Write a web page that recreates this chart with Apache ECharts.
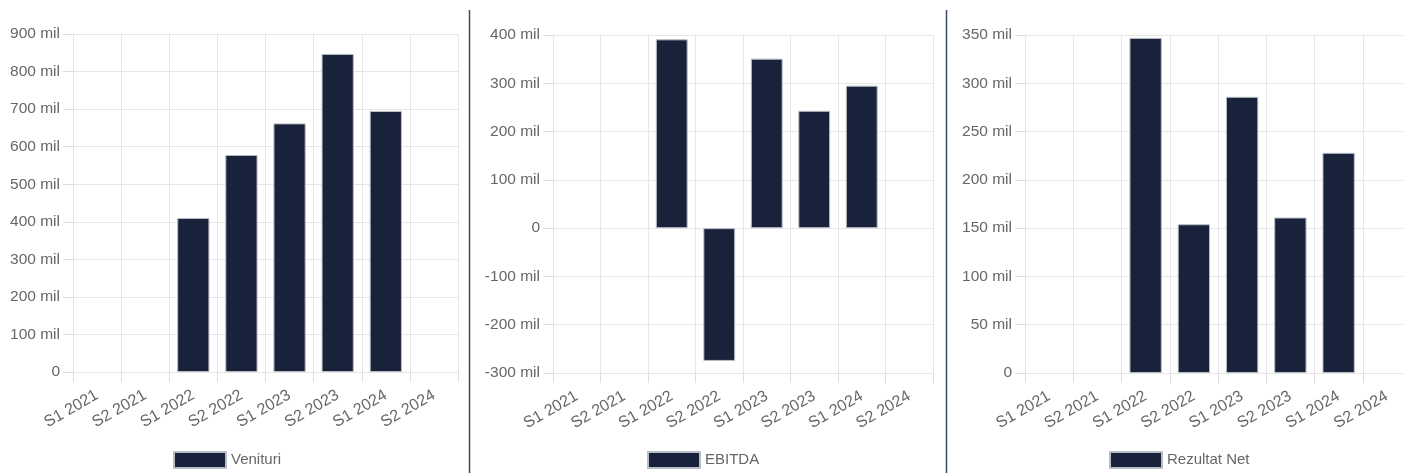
<!DOCTYPE html>
<html>
<head>
<meta charset="utf-8">
<script src="https://cdn.jsdelivr.net/npm/echarts@6/dist/echarts.min.js"></script>
<style>
  html, body { margin: 0; padding: 0; background: #fff; overflow: hidden; }
  #chart { width: 1420px; height: 473px; }
</style>
</head>
<body>
<div id="chart"></div>
<script>
const categories = ['S1 2021', 'S2 2021', 'S1 2022', 'S2 2022', 'S1 2023', 'S2 2023', 'S1 2024', 'S2 2024'];

const venituri = [null, null, 410, 578, 662, 847, 695, null];
const ebitda = [null, null, 391, -275, 351, 243, 295, null];
const rezultatNet = [null, null, 347, 154, 286, 161, 228, null];

const panels = [
    {name: 'Venituri', data: venituri, min: 0, max: 900, interval: 100,
        left: 73, width: 385, top: 34, height: 338, legendLeft: 168},
    {name: 'EBITDA', data: ebitda, min: -300, max: 400, interval: 100,
        left: 553, width: 380, top: 35, height: 338, legendLeft: 642},
    {name: 'Rezultat Net', data: rezultatNet, min: 0, max: 350, interval: 50,
        left: 1025, width: 386, top: 35, height: 338, legendLeft: 1104}
];

const BAR = '#18223b';
const GRID_LINE = '#e6e6e6';
const TICK = '#dcdcdc';
const TEXT = '#666';
const FONT = 'Liberation Sans, Arial, sans-serif';

const grid = [];
const xAxis = [];
const yAxis = [];
const series = [];
const legend = [];

panels.forEach((p, i) => {
    grid.push({left: p.left, width: p.width, top: p.top, height: p.height, containLabel: false});

    // main axis: labels, gridlines, bars
    xAxis.push({
        type: 'category',
        gridIndex: i,
        position: 'bottom',
        data: categories,
        boundaryGap: true,
        axisLine: {show: true, onZero: false, lineStyle: {color: GRID_LINE}},
        axisTick: {show: false},
        axisLabel: {
            rotate: 30, margin: 22, color: TEXT, fontSize: 16, fontFamily: FONT,
            interval: 0
        },
        splitLine: {show: true, interval: 0, lineStyle: {color: GRID_LINE}}
    });
    // twin axis that only draws the ticks under the gridlines
    xAxis.push({
        type: 'category',
        gridIndex: i,
        position: 'bottom',
        data: categories,
        boundaryGap: true,
        axisLine: {show: false, onZero: false},
        axisTick: {show: true, length: 10, interval: 0, lineStyle: {color: TICK}},
        axisLabel: {show: false},
        splitLine: {show: false}
    });

    yAxis.push({
        type: 'value',
        gridIndex: i,
        min: p.min,
        max: p.max,
        interval: p.interval,
        axisLine: {show: true, lineStyle: {color: GRID_LINE}},
        axisTick: {show: true, length: 10, lineStyle: {color: TICK}},
        axisLabel: {
            margin: 13, color: TEXT, fontSize: 15.5, fontFamily: FONT,
            formatter: v => v === 0 ? '0' : v + ' mil'
        },
        splitLine: {show: true, lineStyle: {color: GRID_LINE}}
    });

    series.push({
        name: p.name,
        type: 'bar',
        xAxisIndex: i * 2,
        yAxisIndex: i,
        data: p.data,
        barWidth: '67%',
        itemStyle: {color: BAR, borderColor: '#b9bdc7', borderWidth: 1},
        emphasis: {disabled: true}
    });

    legend.push({
        data: [p.name],
        left: p.legendLeft,
        top: 446,
        itemWidth: 52,
        itemHeight: 16,
        itemGap: 7,
        icon: 'rect',
        textStyle: {color: TEXT, fontSize: 15, fontFamily: FONT},
        selectedMode: false
    });
});

const chart = echarts.init(document.getElementById('chart'));
chart.setOption({
    animation: false,
    grid,
    xAxis,
    yAxis,
    series,
    legend,
    graphic: [
        {type: 'line', shape: {x1: 469.5, y1: 10, x2: 469.5, y2: 473},
            style: {stroke: '#3d4b60', lineWidth: 1.5}},
        {type: 'line', shape: {x1: 946.5, y1: 10, x2: 946.5, y2: 473},
            style: {stroke: '#3d4b60', lineWidth: 1.5}}
    ]
});
</script>
</body>
</html>
